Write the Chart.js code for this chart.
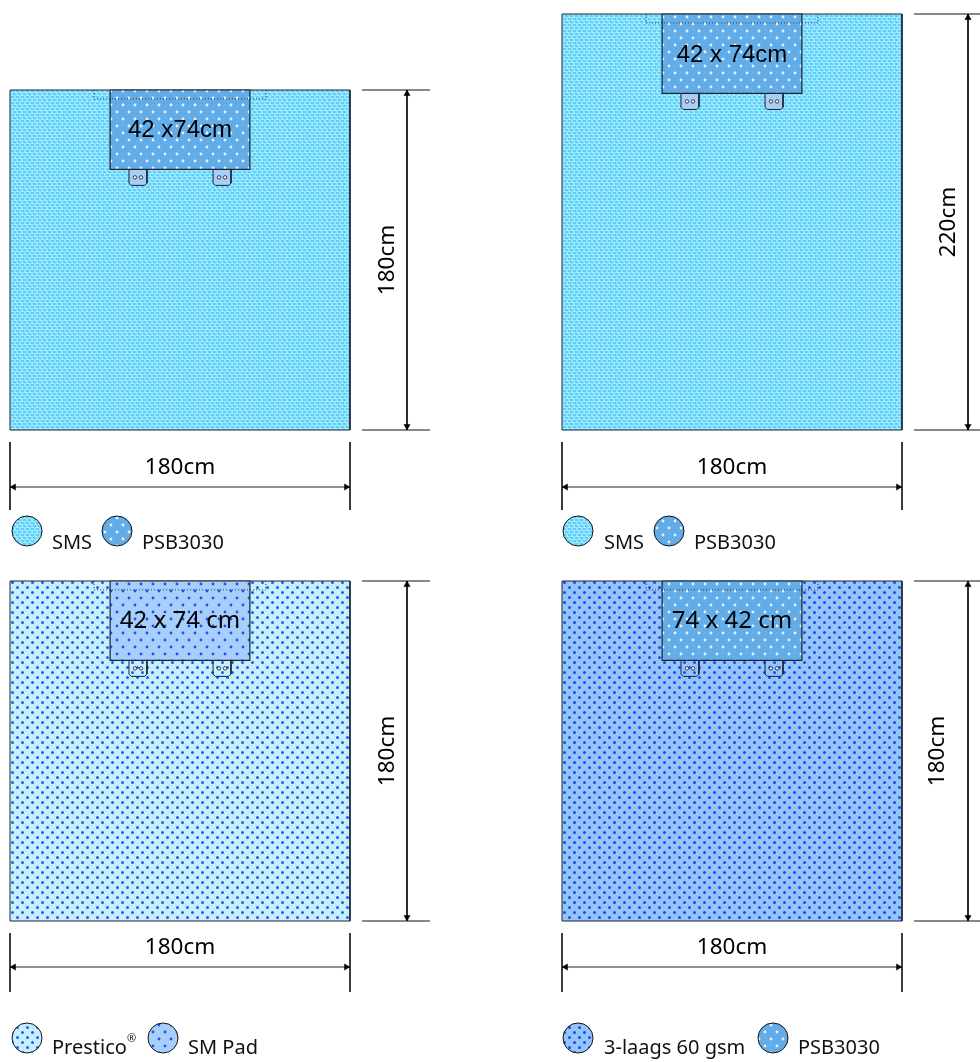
<!DOCTYPE html>
<html>
<head>
<meta charset="utf-8">
<style>
html, body { margin: 0; padding: 0; background: #fff; }
#wrap { position: relative; width: 980px; height: 1062px; overflow: hidden; }
#wrap canvas { position: absolute; }
</style>
<script src="https://cdn.jsdelivr.net/npm/chart.js@4"></script>
</head>
<body>
<div id="wrap"></div>
<script>
// sizes in cm
const sheetWidths = [180, 180, 180, 180];
const sheetHeights = [180, 220, 180, 180];
const padWidths = [74, 74, 74, 74];
const padHeights = [42, 42, 42, 42];
const widthLabels = ['180cm', '180cm', '180cm', '180cm'];
const heightLabels = ['180cm', '220cm', '180cm', '180cm'];
const padLabels = ['42 x74cm', '42 x 74cm', '42 x 74 cm', '74 x 42 cm'];
const sheetNames = ['SMS', 'SMS', 'Prestico', '3-laags 60 gsm'];
const padNames = ['PSB3030', 'PSB3030', 'SM Pad', 'PSB3030'];
const sheetMaterials = ['sms', 'sms', 'prestico', 'laags'];
const padMaterials = ['psb', 'psb', 'smpad', 'psb'];

const PX = 340 / 180;
const DARK = '#1c2430';
const FONT = '"Noto Sans", sans-serif';

// canvas box and where the sheet starts inside it
const boxes = [
    { left: 0, top: 60, width: 490, height: 500, sx: 10, sy: 30, hArrow: 407, hTick: [362, 430], vTick: [442, 510], wArrow: 487, hText: 388, wText: 468, legendY: 531, nameY: 543, legendX: [27, 117], nameX: [52, 142], padFont: '24px "Liberation Sans"', padShift: 1 },
    { left: 552, top: 0, width: 428, height: 560, sx: 10, sy: 14, hArrow: 968, hTick: [914, 980], vTick: [442, 510], wArrow: 487, hText: 949, wText: 468, legendY: 531, nameY: 543, legendX: [578, 669], nameX: [604, 694], padFont: '24px "Liberation Sans"', padShift: 2 },
    { left: 0, top: 560, width: 490, height: 502, sx: 10, sy: 21, hArrow: 407, hTick: [362, 430], vTick: [933, 992], wArrow: 967, hText: 388, wText: 948, legendY: 1038, nameY: 1048, legendX: [27, 163], nameX: [52, 188], padFont: '24px ' + FONT, padShift: 0 },
    { left: 552, top: 560, width: 428, height: 502, sx: 10, sy: 21, hArrow: 968, hTick: [914, 980], vTick: [933, 992], wArrow: 967, hText: 938, wText: 948, legendY: 1038, nameY: 1048, legendX: [578, 773], nameX: [604, 798], padFont: '24px ' + FONT, padShift: 0 }
];

function makePattern(bg, cell, w, h) {
    const c = document.createElement('canvas');
    c.width = w; c.height = h;
    const g = c.getContext('2d');
    g.fillStyle = bg;
    g.fillRect(0, 0, w, h);
    cell(g);
    return g.createPattern(c, 'repeat');
}

function dots(g, color, r, list) {
    g.fillStyle = color;
    list.forEach(p => {
        g.beginPath();
        g.arc(p[0], p[1], r, 0, Math.PI * 2);
        g.fill();
    });
}

const patterns = {
    sms: makePattern('#93e4fc', g => {
        g.fillStyle = '#5ccffb';
        g.fillRect(1, 0, 3, 2);
        g.fillRect(3, 3, 3, 2);
        g.fillRect(0, 3, 1, 2);
        g.fillStyle = '#c8f4fe';
        g.fillRect(0, 2, 1, 1);
        g.fillRect(2, 5, 1, 1);
    }, 5, 6),
    prestico: makePattern('#c5f0ff', g => {
        dots(g, '#3355f0', 1.5, [[2.5, 2.5], [7.5, 7.5]]);
    }, 10, 10),
    laags: makePattern('#93c5fb', g => {
        dots(g, '#2446f0', 1.5, [[2.5, 2.5], [7.5, 7.5]]);
    }, 10, 10),
    smpad: makePattern('#a6cffc', g => {
        dots(g, '#2a4cf0', 1.4, [[3, 3], [9, 10]]);
    }, 12, 14),
    psb: makePattern('#62ace8', g => {
        dots(g, '#e4f2fd', 1.4, [[3, 3], [9, 10]]);
    }, 12, 14)
};

function rect(x0, y0, x1, y1) {
    return [{ x: x0, y: y0 }, { x: x1, y: y0 }, { x: x1, y: y1 }, { x: x0, y: y1 }, { x: x0, y: y0 }];
}

function tab(x0, y0, w, h) {
    const c = 1.2;
    return [{ x: x0, y: y0 }, { x: x0 + w, y: y0 }, { x: x0 + w, y: y0 + h - c }, { x: x0 + w - c, y: y0 + h }, { x: x0 + c, y: y0 + h }, { x: x0, y: y0 + h - c }, { x: x0, y: y0 }];
}

function shape(data, fillStyle, lineColor, lineWidth) {
    return { data, showLine: true, fill: 'shape', backgroundColor: fillStyle, borderColor: lineColor, borderWidth: lineWidth, pointRadius: 0, tension: 0, clip: false };
}

function stroke(data, color, width, dash) {
    return { data, showLine: true, fill: false, borderColor: color, borderWidth: width, borderDash: dash || [], pointRadius: 0, tension: 0, clip: false };
}

function arrowHeads(data, rotations) {
    return { data, showLine: false, pointStyle: 'triangle', pointRadius: 3.6, pointRotation: rotations, backgroundColor: '#000', borderColor: '#000', borderWidth: 0.5, clip: false };
}

function swatch(x, y, fillStyle) {
    return { data: [{ x, y }], showLine: false, pointStyle: 'circle', pointRadius: 15, backgroundColor: fillStyle, borderColor: '#111', borderWidth: 1, clip: false };
}

const textPlugin = {
    id: 'drawingText',
    afterDatasetsDraw(chart) {
        const ctx = chart.ctx;
        const i = chart.options.plugins.drawingText.index;
        const b = boxes[i];
        const xs = chart.scales.x, ys = chart.scales.y;
        ctx.save();
        ctx.fillStyle = '#000';
        ctx.textBaseline = 'middle';
        ctx.textAlign = 'center';
        // pad label sits in the middle of the pad
        ctx.font = b.padFont;
        ctx.fillText(padLabels[i], xs.getPixelForValue(sheetWidths[i] / 2), ys.getPixelForValue(padHeights[i] / 2) + b.padShift);
        ctx.font = '22.5px ' + FONT;
        ctx.fillText(widthLabels[i], xs.getPixelForValue(sheetWidths[i] / 2), b.wText - b.top);
        ctx.save();
        ctx.translate(b.hText - b.left, ys.getPixelForValue(sheetHeights[i] / 2));
        ctx.rotate(-Math.PI / 2);
        ctx.fillText(heightLabels[i], 0, 0);
        ctx.restore();
        // legend names
        ctx.font = '20px ' + FONT;
        ctx.textAlign = 'left';
        ctx.fillStyle = '#111';
        const y = b.nameY - b.top;
        ctx.fillText(sheetNames[i], b.nameX[0] - b.left, y);
        if (i === 2) {
            const w = ctx.measureText(sheetNames[i]).width;
            ctx.font = '11px ' + FONT;
            ctx.fillText('®', b.nameX[0] - b.left + w, y - 9);
            ctx.font = '20px ' + FONT;
        }
        ctx.fillText(padNames[i], b.nameX[1] - b.left, y);
        ctx.restore();
    }
};

boxes.forEach((b, i) => {
    const canvas = document.createElement('canvas');
    canvas.style.left = b.left + 'px';
    canvas.style.top = b.top + 'px';
    canvas.style.width = b.width + 'px';
    canvas.style.height = b.height + 'px';
    canvas.width = b.width;
    canvas.height = b.height;
    document.getElementById('wrap').appendChild(canvas);

    const W = sheetWidths[i], H = sheetHeights[i];
    const pw = padWidths[i], ph = padHeights[i];
    const ppy = i === 1 ? 416 / 220 : PX;
    const toX = px => (px - b.left - b.sx) / PX;    // page pixel to cm, for the dimension lines only
    const toY = py => (py - b.top - b.sy) / ppy;
    const padL = (W - pw) / 2, padR = (W + pw) / 2;

    const tabW = 9.5, tabH = 8.5;
    const tabs = [padL + 10, padR - 10 - tabW];
    const holes = [];
    tabs.forEach(t => {
        holes.push({ x: t + tabW * 0.33, y: ph + tabH * 0.5 });
        holes.push({ x: t + tabW * 0.67, y: ph + tabH * 0.5 });
    });
    const tabFill = i < 2 ? '#a8cdf6' : 'rgba(0,0,0,0)';

    // listed bottom to top, reversed below because chart.js paints dataset 0 last
    const datasets = [
        shape(rect(0, 0, W, H), patterns[sheetMaterials[i]], DARK, 1),
        shape(tab(tabs[0], ph, tabW, tabH), tabFill, DARK, 1),
        shape(tab(tabs[1], ph, tabW, tabH), tabFill, DARK, 1),
        { data: holes, showLine: false, pointStyle: 'circle', pointRadius: 1.7, backgroundColor: '#fff', borderColor: DARK, borderWidth: 0.9, clip: false },
        shape(rect(padL, 0, padR, ph), patterns[padMaterials[i]], DARK, 1.2),
        stroke([{ x: padL - 8.5, y: 4.7 }, { x: padR + 8.5, y: 4.7 }], '#2a3444', 1, [1, 2]),
        stroke([{ x: padL - 8.5, y: 0 }, { x: padL - 8.5, y: 4.7 }], '#2a3444', 1, [1, 2]),
        stroke([{ x: padR + 8.5, y: 0 }, { x: padR + 8.5, y: 4.7 }], '#2a3444', 1, [1, 2]),
        // height dimension
        stroke([{ x: toX(b.hTick[0]), y: 0 }, { x: toX(b.hTick[1]), y: 0 }], '#111', 1),
        stroke([{ x: toX(b.hTick[0]), y: H }, { x: toX(b.hTick[1]), y: H }], '#111', 1),
        stroke([{ x: toX(b.hArrow), y: 0 }, { x: toX(b.hArrow), y: H }], '#111', 1),
        arrowHeads([{ x: toX(b.hArrow), y: 2 }, { x: toX(b.hArrow), y: H - 2 }], [0, 180]),
        // width dimension
        stroke([{ x: 0, y: toY(b.vTick[0]) }, { x: 0, y: toY(b.vTick[1]) }], '#222', 1),
        stroke([{ x: W, y: toY(b.vTick[0]) }, { x: W, y: toY(b.vTick[1]) }], '#222', 1),
        stroke([{ x: 0, y: toY(b.wArrow) }, { x: W, y: toY(b.wArrow) }], '#222', 1),
        arrowHeads([{ x: 2, y: toY(b.wArrow) }, { x: W - 2, y: toY(b.wArrow) }], [-90, 90]),
        // material swatches
        swatch(toX(b.legendX[0]), toY(b.legendY), patterns[sheetMaterials[i]]),
        swatch(toX(b.legendX[1]), toY(b.legendY), patterns[padMaterials[i]])
    ].reverse();

    new Chart(canvas, {
        type: 'scatter',
        data: { datasets },
        options: {
            responsive: false,
            animation: false,
            devicePixelRatio: 1,
            layout: { padding: 0, autoPadding: false },
            plugins: { legend: { display: false }, tooltip: { enabled: false }, drawingText: { index: i } },
            scales: {
                x: { type: 'linear', display: false, min: -b.sx / PX, max: (b.width - b.sx) / PX },
                y: { type: 'linear', display: false, reverse: true, min: -b.sy / ppy, max: (b.height - b.sy) / ppy }
            }
        },
        plugins: [textPlugin]
    });
});
</script>
</body>
</html>
